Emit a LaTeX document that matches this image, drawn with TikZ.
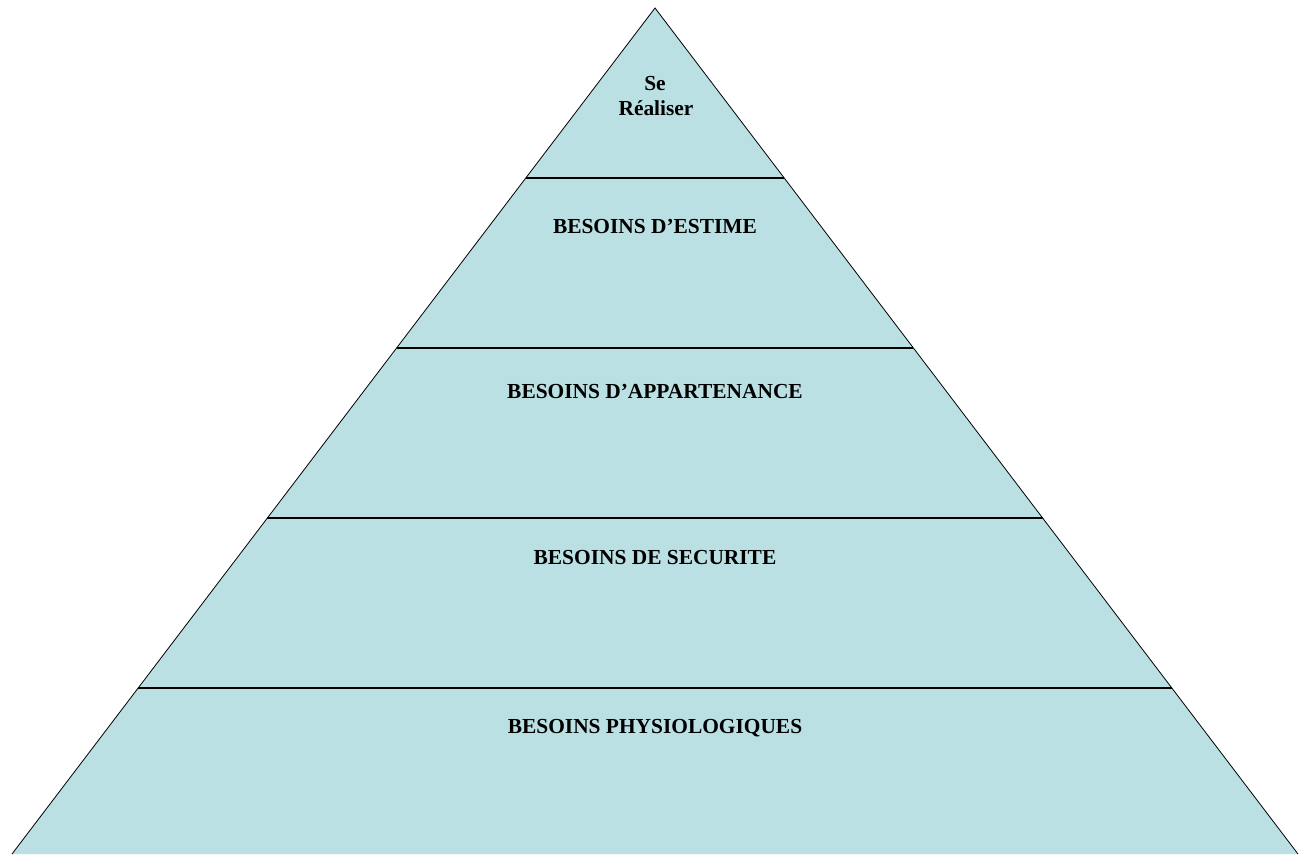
\documentclass[tikz,border=0pt]{standalone}
\usepackage{fontspec}
\setmainfont{Liberation Serif}
\usetikzlibrary{calc}
\definecolor{pyrfill}{RGB}{187,224,227}
\tikzset{
  side/.style={draw=black, line width=0.8pt},
  tier/.style={draw=black, line width=1.4pt},
  lbl/.style={font=\fontsize{21.4}{24}\selectfont\bfseries, anchor=base, inner sep=0pt},
}
\begin{document}
\begin{tikzpicture}[x=1pt,y=-1pt]
\useasboundingbox (0,0) rectangle (1309,854);
\coordinate (A) at (655,8);
\coordinate (BL) at (12,854);
\coordinate (BR) at (1298,854);
\fill[pyrfill] (A) -- (BL) -- (BR) -- cycle;
\foreach \k/\n in {1/a,2/b,3/c,4/d}{
  \coordinate (L\n) at ($(A)!{\k*170/846}!(BL)$);
  \coordinate (R\n) at ($(A)!{\k*170/846}!(BR)$);
  \draw[tier] (L\n) -- (R\n);
}
\draw[side] (BL) -- (A) -- (BR);
\node[lbl] (se) at (655,90) {Se};
\node[lbl] (real) at (656,115) {Réaliser};
\node[lbl] (estime) at (655,233) {BESOINS D’ESTIME};
\node[lbl] (appart) at (655,398) {BESOINS D’APPARTENANCE};
\node[lbl] (secu) at (655,564) {BESOINS DE SECURITE};
\node[lbl] (physio) at (655,733) {BESOINS PHYSIOLOGIQUES};
\end{tikzpicture}
\end{document}
